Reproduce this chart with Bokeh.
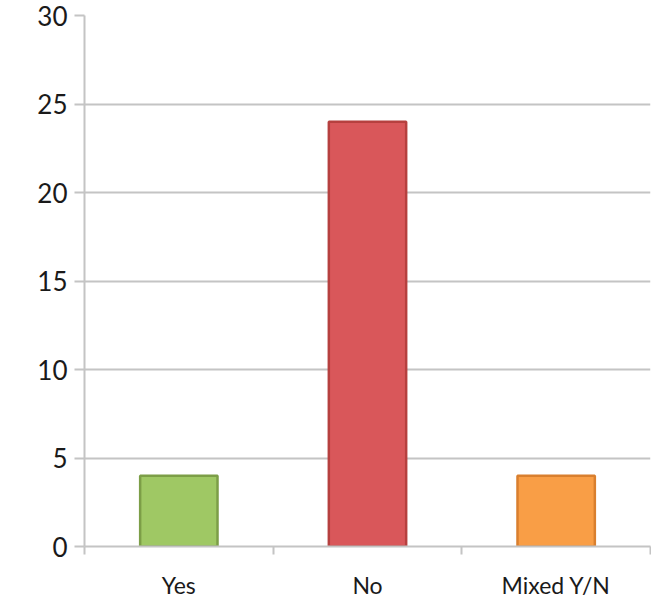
from bokeh.plotting import figure
from bokeh.models import Range1d, FixedTicker, ColumnDataSource
from bokeh.embed import file_html
from bokeh.resources import INLINE

categories = ["Yes", "No", "Mixed Y/N"]
counts = [4, 24, 4]
fill_colors = ["#9fc864", "#d9575a", "#f99e46"]
line_colors = ["#7c9e47", "#b6403f", "#d97f2e"]
y_ticks = [0, 5, 10, 15, 20, 25, 30]

x_pos = [i + 0.5 for i in range(len(categories))]
src = ColumnDataSource(dict(x=x_pos, top=counts, fill=fill_colors, line=line_colors))

p = figure(width=651, height=601, output_backend="svg", toolbar_location=None,
           x_range=Range1d(0, len(categories)), y_range=Range1d(0, 30),
           min_border_left=84, min_border_right=1, min_border_top=15, min_border_bottom=52)
p.outline_line_color = None

p.vbar(x="x", top="top", width=0.41, source=src, fill_color="fill",
       line_color="line", line_width=2.5)

grid_col = "#c4c4c4"
p.xgrid.grid_line_color = None
p.ygrid.grid_line_color = grid_col
p.ygrid.grid_line_width = 2

p.yaxis.ticker = FixedTicker(ticks=y_ticks)
p.yaxis.axis_line_color = grid_col
p.yaxis.axis_line_width = 2
p.yaxis.major_tick_line_color = grid_col
p.yaxis.major_tick_line_width = 2
p.yaxis.major_tick_out = 10
p.yaxis.major_tick_in = 0
p.yaxis.minor_tick_line_color = None
p.yaxis.major_label_text_font = "Lato"
p.yaxis.major_label_text_font_size = "26px"
p.yaxis.major_label_text_color = "#1a1a1a"
p.yaxis.major_label_standoff = 7

p.xaxis.ticker = FixedTicker(ticks=x_pos, minor_ticks=list(range(len(categories) + 1)))
p.xaxis.major_label_overrides = {x: c for x, c in zip(x_pos, categories)}
p.xaxis.axis_line_color = grid_col
p.xaxis.axis_line_width = 2
p.xaxis.major_tick_line_color = None
p.xaxis.major_tick_out = 0
p.xaxis.minor_tick_line_color = grid_col
p.xaxis.minor_tick_line_width = 2
p.xaxis.minor_tick_out = 8
p.xaxis.minor_tick_in = 0
p.xaxis.major_label_text_font = "Lato"
p.xaxis.major_label_text_font_size = "23px"
p.xaxis.major_label_text_color = "#1a1a1a"
p.xaxis.major_label_standoff = 16

open("out.html", "w").write(file_html(p, INLINE))
